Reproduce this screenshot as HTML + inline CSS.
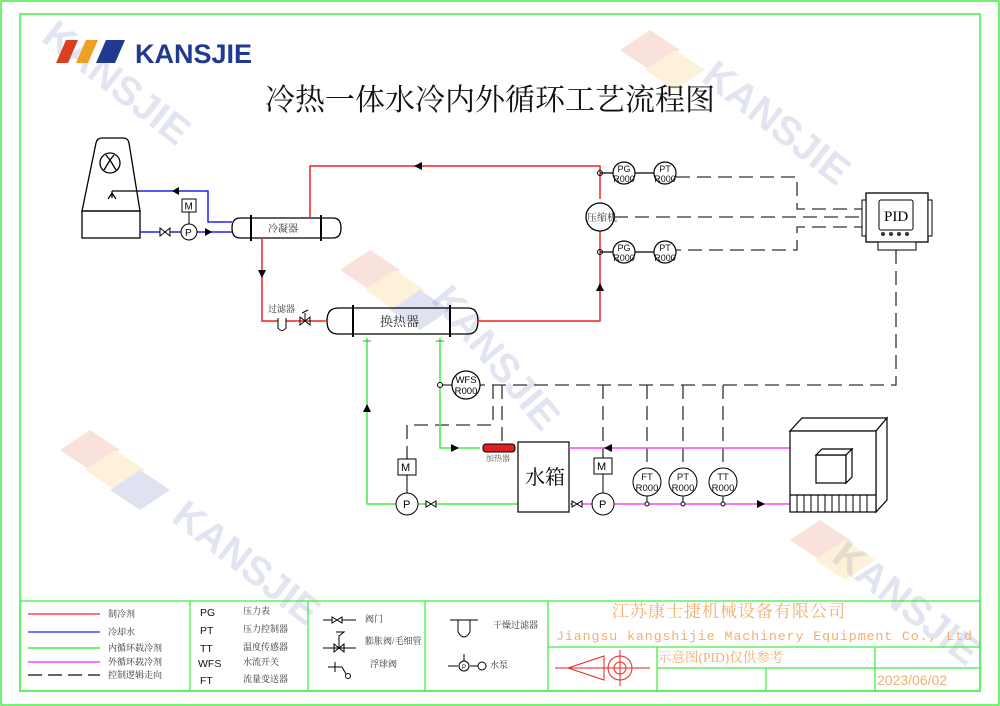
<!DOCTYPE html>
<html><head><meta charset="utf-8"><style>
html,body{margin:0;padding:0;background:#fff}
svg{display:block}
text{font-family:"Liberation Serif","Noto Serif CJK SC",serif}
text.s,.s text{font-family:"Liberation Sans","Noto Sans CJK SC",sans-serif}
text.m{font-family:"Liberation Mono","Noto Sans CJK SC",monospace}
</style></head><body>
<svg width="1000" height="706" viewBox="0 0 1000 706" xmlns="http://www.w3.org/2000/svg">
<!-- watermarks -->
<g opacity="0.18" class="s" font-weight="bold" font-size="40" fill="#5a6fb0">
<text x="40" y="40" transform="rotate(38 40 40)">KANSJIE</text>
<text x="700" y="80" transform="rotate(38 700 80)">KANSJIE</text>
<text x="430" y="300" transform="rotate(50 430 300)">KANSJIE</text>
<text x="170" y="520" transform="rotate(38 170 520)">KANSJIE</text>
<text x="830" y="560" transform="rotate(38 830 560)">KANSJIE</text>
</g>
<g opacity="0.18">
<polygon points="340,270 370,250 400,270 370,290" fill="#e06040"/><polygon points="365,290 395,270 425,290 395,310" fill="#f0b030"/><polygon points="390,310 420,290 450,310 420,330" fill="#5060b0"/>
<polygon points="620,50 650,30 680,50 650,70" fill="#e06040"/><polygon points="645,70 675,50 705,70 675,90" fill="#f0b030"/>
<polygon points="60,450 90,430 120,450 90,470" fill="#e06040"/><polygon points="85,470 115,450 145,470 115,490" fill="#f0b030"/><polygon points="110,490 140,470 170,490 140,510" fill="#5060b0"/>
<polygon points="790,540 820,520 850,540 820,560" fill="#e06040"/><polygon points="815,560 845,540 875,560 845,580" fill="#f0b030"/>
</g>
<!-- frames -->
<rect x="1" y="1" width="998" height="704" fill="none" stroke="#44ee44" stroke-width="1.5"/>
<rect x="20" y="14" width="960" height="677" fill="none" stroke="#44ee44" stroke-width="1.5"/>
<!-- logo -->
<polygon points="56,63 66,40 78,40 68,63" fill="#d84020"/>
<polygon points="76,63 86,40 98,40 88,63" fill="#f0a020"/>
<polygon points="96,63 106,40 125,40 115,63" fill="#203a90"/>
<text x="135" y="63" class="s" font-weight="bold" font-size="27" fill="#203a90">KANSJIE</text>
<text x="265" y="110" font-size="30" fill="#111">冷热一体水冷内外循环工艺流程图</text>

<g fill="none" stroke="#000" stroke-width="1.3">
<path d="M82,211 L96,143 Q97,138 102,138 L123,138 Q128,138 129,143 L140,211 Z"/>
<rect x="82" y="211" width="58" height="27"/>
<circle cx="110" cy="163" r="10"/>
<path d="M104,170 L110,160 L116,170 M110,160 L106,155 M110,160 L114,155"/>
<path d="M112,191 L112,198 M108,199 L112,193 L116,199"/>
<path d="M240,218 L333,218 Q341,218 341,228 Q341,238 333,238 L240,238 Q232,238 232,228 Q232,218 240,218 Z"/>
<line x1="251" y1="215" x2="251" y2="241" stroke-width="2"/><line x1="321" y1="215" x2="321" y2="241" stroke-width="2"/>
<path d="M338,308 L468,308 Q478,308 478,321 Q478,334 468,334 L338,334 Q327,334 327,321 Q327,308 338,308 Z"/>
<line x1="353" y1="305" x2="353" y2="337" stroke-width="2"/><line x1="450" y1="305" x2="450" y2="337" stroke-width="2"/>
</g>
<text x="268" y="232" font-size="10" fill="#333">冷凝器</text>
<text x="380" y="326" font-size="13" fill="#333">换热器</text>

<g fill="none" stroke="#2222ee" stroke-width="1.5">
<path d="M140,191 L208,191 L208,222 L232,222"/>
<path d="M140,232 L232,232"/>
</g>
<path d="M112,191 L140,191" stroke="#000" stroke-width="1.3"/>
<polygon points="172,191 179,187 179,195" fill="#000"/>
<polygon points="212,232 205,228 205,236" fill="#000"/>
<path d="M160,228 L160,236 L170,228 L170,236 Z" fill="#fff" stroke="#000"/>
<circle cx="189" cy="232" r="8" fill="#fff" stroke="#000"/><text x="185" y="236" class="s" font-size="10">P</text>
<line x1="189" y1="224" x2="189" y2="212" stroke="#000"/>
<rect x="182" y="199" width="14" height="13" fill="#fff" stroke="#000"/><text x="184.5" y="209.5" class="s" font-size="10">M</text>

<g fill="none" stroke="#ee2222" stroke-width="1.5">
<path d="M310,218 L310,166 L600,166 L600,199"/>
<path d="M600,227 L600,321 L478,321"/>
<path d="M262,238 L262,321 L327,321"/>
</g>
<polygon points="414,166 422,162 422,170" fill="#000"/>
<polygon points="262,278 258,270 266,270" fill="#000"/>
<polygon points="600,283 596,291 604,291" fill="#000"/>
<path d="M278,318 L278,328 Q282,333 286,328 L286,318" fill="#fff" stroke="#000"/>
<text x="268" y="312" font-size="9" fill="#333">过滤器</text>
<path d="M300,317 L300,325 L310,317 L310,325 Z M305,321 L305,313 M302,313 L308,310" fill="none" stroke="#000"/>
<circle cx="600" cy="173" r="2.5" fill="none" stroke="#000"/><circle cx="600" cy="252" r="2.5" fill="none" stroke="#000"/>
<circle cx="600" cy="217" r="14" fill="#fff" stroke="#000" stroke-width="1.3"/>
<text x="587" y="221" font-size="10" fill="#333">压缩机</text>
<g stroke="#000" fill="#fff" stroke-width="1.2">
<line x1="600" y1="173" x2="654" y2="173"/><line x1="600" y1="252" x2="654" y2="252"/>
<circle cx="624" cy="173" r="11"/><circle cx="665" cy="173" r="11"/>
<circle cx="624" cy="252" r="11"/><circle cx="665" cy="252" r="11"/>
</g>
<g class="s" font-size="9" fill="#111" text-anchor="middle">
<text x="624" y="172">PG</text><text x="624" y="182">R000</text>
<text x="665" y="172">PT</text><text x="665" y="182">R000</text>
<text x="624" y="251">PG</text><text x="624" y="261">R000</text>
<text x="665" y="251">PT</text><text x="665" y="261">R000</text>
</g>
<g fill="none" stroke="#333" stroke-width="1.3" stroke-dasharray="14,7">
<path d="M676,177 L797,177 L797,209 L868,209"/>
<path d="M614,217 L868,217"/>
<path d="M868,227 L797,227 L797,250 L676,250"/>
<path d="M896,250 L896,385 L480,385"/>
<path d="M493,385 L493,425 L407,425 L407,460"/>
<path d="M502,385 L502,444"/>
<path d="M603,385 L603,458"/>
<path d="M647,385 L647,468"/><path d="M683,385 L683,468"/><path d="M723,385 L723,468"/>
</g>
<rect x="866" y="193" width="62" height="49" fill="#fff" stroke="#000" stroke-width="1.3"/>
<rect x="862" y="200" width="4" height="36" fill="#fff" stroke="#000"/><rect x="928" y="200" width="4" height="36" fill="#fff" stroke="#000"/>
<rect x="879" y="200" width="34" height="30" rx="2" fill="#fff" stroke="#000"/>
<text x="884" y="221" font-size="15">PID</text>
<g fill="#333"><circle cx="883" cy="234" r="2"/><circle cx="891" cy="234" r="2"/><circle cx="899" cy="234" r="2"/><circle cx="907" cy="234" r="2"/></g>
<rect x="878" y="242" width="38" height="8" fill="#fff" stroke="#000"/>

<g fill="none" stroke="#44ee44" stroke-width="1.5">
<path d="M367,338 L367,504 L518,504"/>
<path d="M440,338 L440,448 L480,448"/>
</g>
<g stroke="#22aa22"><line x1="363" y1="341" x2="371" y2="341"/><line x1="436" y1="341" x2="444" y2="341"/></g>
<polygon points="367,404 363,412 371,412" fill="#000"/>
<polygon points="459,448 451,444 451,452" fill="#000"/>
<circle cx="440" cy="385" r="2.5" fill="#fff" stroke="#000"/>
<line x1="442" y1="385" x2="452" y2="385" stroke="#000"/>
<circle cx="466" cy="385" r="14" fill="#fff" stroke="#000" stroke-width="1.2"/>
<text x="466" y="383" class="s" font-size="9.5" text-anchor="middle">WFS</text><text x="466" y="394" class="s" font-size="9.5" text-anchor="middle">R000</text>
<rect x="483" y="444" width="32" height="8" rx="3" fill="#e02020" stroke="#000"/>
<text x="486" y="461" font-size="8" fill="#555">加热器</text>
<circle cx="407" cy="504" r="11" fill="#fff" stroke="#000"/><text x="403" y="508" class="s" font-size="11">P</text>
<line x1="407" y1="475" x2="407" y2="493" stroke="#000"/>
<rect x="398" y="459" width="18" height="16" fill="#fff" stroke="#000"/><text x="401" y="471" class="s" font-size="11">M</text>
<path d="M426,501 L426,507 L436,501 L436,507 Z" fill="#fff" stroke="#000"/>
<rect x="518" y="442" width="51" height="70" fill="#fff" stroke="#000" stroke-width="1.2"/>
<text x="525" y="484" font-size="20">水箱</text>
<g fill="none" stroke="#ff44ff" stroke-width="1.5">
<path d="M569,448 L790,448"/><path d="M569,504 L790,504"/>
</g>
<polygon points="604,448 612,444 612,452" fill="#000"/>
<polygon points="765,504 757,500 757,508" fill="#000"/>
<path d="M572,501 L572,507 L582,501 L582,507 Z" fill="#fff" stroke="#000"/>
<circle cx="603" cy="504" r="11" fill="#fff" stroke="#000"/><text x="599" y="508" class="s" font-size="11">P</text>
<line x1="603" y1="474" x2="603" y2="493" stroke="#000"/>
<rect x="594" y="458" width="18" height="16" fill="#fff" stroke="#000"/><text x="597" y="470" class="s" font-size="11">M</text>
<g stroke="#000" fill="#fff">
<line x1="647" y1="496" x2="647" y2="504"/><line x1="683" y1="496" x2="683" y2="504"/><line x1="723" y1="496" x2="723" y2="504"/>
<circle cx="647" cy="482" r="14"/><circle cx="683" cy="482" r="14"/><circle cx="723" cy="482" r="14"/>
<circle cx="647" cy="504" r="2"/><circle cx="683" cy="504" r="2"/><circle cx="723" cy="504" r="2"/>
</g>
<g class="s" font-size="9.5" fill="#111" text-anchor="middle">
<text x="647" y="480">FT</text><text x="647" y="491">R000</text>
<text x="683" y="480">PT</text><text x="683" y="491">R000</text>
<text x="723" y="480">TT</text><text x="723" y="491">R000</text>
</g>
<g fill="#fff" stroke="#000" stroke-width="1.2">
<polygon points="790,431 802,418 887,418 876,431"/>
<polygon points="876,431 887,418 887,500 876,512"/>
<rect x="790" y="431" width="86" height="81"/>
<rect x="816" y="455" width="30" height="28"/>
<polygon points="816,455 822,449 852,449 846,455"/><polygon points="846,455 852,449 852,477 846,483"/>
<line x1="790" y1="495" x2="876" y2="495"/>
</g>
<g stroke="#000"><line x1="797" y1="495" x2="797" y2="512"/><line x1="804" y1="495" x2="804" y2="512"/><line x1="811" y1="495" x2="811" y2="512"/><line x1="818" y1="495" x2="818" y2="512"/><line x1="825" y1="495" x2="825" y2="512"/><line x1="832" y1="495" x2="832" y2="512"/><line x1="839" y1="495" x2="839" y2="512"/><line x1="846" y1="495" x2="846" y2="512"/><line x1="853" y1="495" x2="853" y2="512"/><line x1="860" y1="495" x2="860" y2="512"/><line x1="867" y1="495" x2="867" y2="512"/></g>

<g fill="none" stroke="#44ee44" stroke-width="1.3">
<rect x="20" y="601" width="960" height="90"/>
<line x1="190" y1="601" x2="190" y2="691"/><line x1="308" y1="601" x2="308" y2="691"/>
<line x1="425" y1="601" x2="425" y2="691"/><line x1="548" y1="601" x2="548" y2="691"/>
<line x1="548" y1="647" x2="980" y2="647"/><line x1="657" y1="668" x2="980" y2="668"/>
<line x1="657" y1="647" x2="657" y2="691"/><line x1="766" y1="668" x2="766" y2="691"/><line x1="875" y1="647" x2="875" y2="691"/>
</g>
<g stroke-width="1.5">
<line x1="28" y1="614" x2="100" y2="614" stroke="#ff4444"/>
<line x1="28" y1="632" x2="100" y2="632" stroke="#4444ff"/>
<line x1="28" y1="648" x2="100" y2="648" stroke="#44ee44"/>
<line x1="28" y1="662" x2="100" y2="662" stroke="#ff44ff"/>
<line x1="28" y1="675" x2="100" y2="675" stroke="#333" stroke-dasharray="14,6"/>
</g>
<g font-size="9" fill="#333">
<text x="108" y="617">制冷剂</text><text x="108" y="635">冷却水</text><text x="108" y="651">内循环载冷剂</text><text x="108" y="665">外循环载冷剂</text><text x="108" y="678">控制逻辑走向</text>
<text x="243" y="614">压力表</text><text x="243" y="632">压力控制器</text><text x="243" y="650">温度传感器</text><text x="243" y="665">水流开关</text><text x="243" y="682">流量变送器</text>
<text x="365" y="622">阀门</text><text x="365" y="644">膨胀阀/毛细管</text><text x="370" y="667">浮球阀</text>
<text x="493" y="628">干燥过滤器</text><text x="490" y="668">水泵</text>
</g>
<g class="s" font-size="10.5" fill="#111">
<text x="200" y="616">PG</text><text x="200" y="634">PT</text><text x="200" y="652">TT</text><text x="198" y="667">WFS</text><text x="200" y="684">FT</text>
</g>
<g stroke="#000" fill="none">
<path d="M323,620 L332,620 M332,617 L332,623 L342,617 L342,623 Z M342,620 L356,620"/>
<path d="M323,648 L356,648 M334,644 L334,652 L344,644 L344,652 Z M339,648 L339,636 L344,632 L336,632"/>
<path d="M328,667 L335,667 M335,662 L335,672 M335,667 L342,667 L346,674"/><circle cx="348" cy="676" r="2.5"/>
<path d="M450,620 L478,620 M458,620 L458,632 Q464,642 470,632 L470,620"/>
<path d="M448,666 L458,666 M470,666 L478,666"/><circle cx="464" cy="666" r="5"/><circle cx="482" cy="666" r="4"/><line x1="464" y1="654" x2="464" y2="661"/>
</g>
<text x="462" y="669" class="s" font-size="6">P</text>
<text x="612" y="617" font-size="17" fill="#f0b070" letter-spacing="1">江苏康士捷机械设备有限公司</text>
<text x="556" y="640" class="m" font-size="13.3" fill="#f0b070" textLength="416">Jiangsu kangshijie Machinery Equipment Co., Ltd</text>
<text x="658" y="662" font-size="13.5" fill="#f0b070">示意图(PID)仅供参考</text>
<text x="877" y="685" class="s" font-size="14" fill="#f0b070">2023/06/02</text>
<g stroke="#ee2222" fill="none">
<line x1="555" y1="668" x2="650" y2="668"/>
<polygon points="568,668 604,656 604,680"/>
<circle cx="620" cy="668" r="12"/><circle cx="620" cy="668" r="6"/><line x1="620" y1="650" x2="620" y2="686"/>
</g>
</svg>
</body></html>
